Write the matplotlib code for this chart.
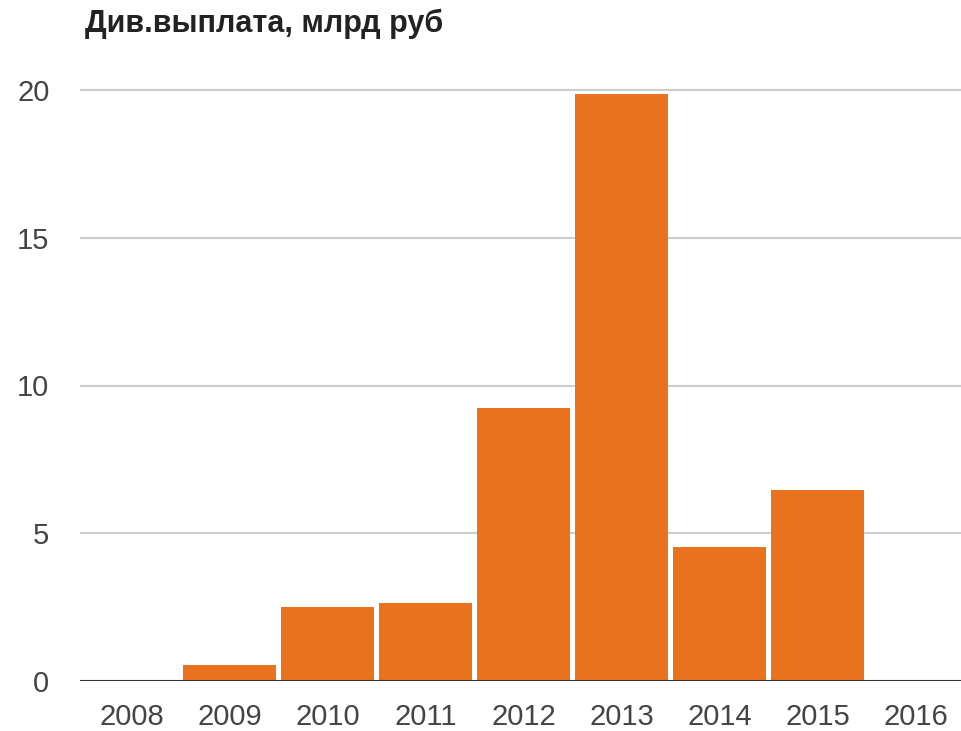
import matplotlib.pyplot as plt

# данные
years = ["2008", "2009", "2010", "2011", "2012", "2013", "2014", "2015", "2016"]
payout = [0, 0.54, 2.50, 2.64, 9.24, 19.86, 4.53, 6.46, 0]
y_ticks = [0, 5, 10, 15, 20]

plt.rcParams["font.family"] = ["Liberation Sans", "DejaVu Sans"]

W, H = 961, 731
# область графика в пикселях
left, right, bottom, top20 = 80, 967, 681, 90
fig = plt.figure(figsize=(W / 100, H / 100), dpi=100)
ax = fig.add_axes([left / W, (H - bottom) / H, (right - left) / W,
                   (bottom - top20) / H * 1.02])

x = range(len(years))
ax.bar(x, payout, width=0.95, color="#E8721E", zorder=3)

step = 98.0
first_left = 82.5
ax.set_xlim(-0.5 + (left - first_left) / step, -0.5 + (right - first_left) / step)
ax.set_ylim(0, 20 * 1.02)
ax.set_yticks(y_ticks)
ax.set_xticks(list(x))
ax.set_xticklabels(years)

ax.grid(axis="y", color="#cccccc", linewidth=1.5, zorder=0)
ax.axhline(0, color="#333333", linewidth=2.2, zorder=4)

for s in ax.spines.values():
    s.set_visible(False)
ax.tick_params(axis="both", length=0, labelsize=21, colors="#444444")
ax.tick_params(axis="y", pad=22)
ax.tick_params(axis="x", pad=16)

fig.text(85 / W, 1 - 32 / H, "Див.выплата, млрд руб", fontsize=22,
         fontweight="bold", color="#222222", va="baseline", ha="left")

fig.savefig("out.png", dpi=100)
